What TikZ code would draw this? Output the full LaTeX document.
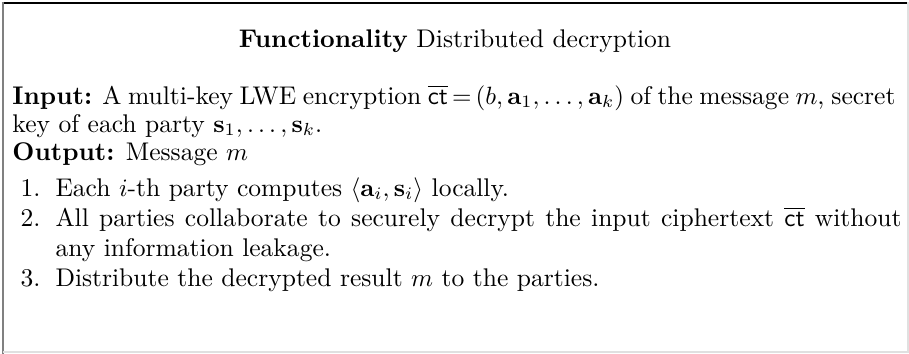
\documentclass[tikz,border=0pt]{standalone}
\usepackage{amsmath,amssymb}
\newcommand{\fs}{\fontsize{10.22}{12.3}\selectfont}
\begin{document}
\begin{tikzpicture}[x=0.4pt,y=-0.4pt,
  txt/.style={anchor=base west,inner sep=0pt,font=\fs},
  lab/.style={anchor=base east,inner sep=0pt,font=\fs}]
\fill[white] (0,0) rectangle (909,354);
\useasboundingbox (0,0) rectangle (909,354);
\draw[line width=0.8pt,black] (2,2.5) -- (909,2.5);
\draw[line width=0.8pt,gray] (3,2) -- (3,354);
\draw[line width=0.5pt,black!12] (908,2) -- (908,352) -- (3,352);
\node[anchor=base,inner sep=0pt,font=\fs] (title) at (455,47) {\textbf{Functionality} Distributed decryption};
\node[txt] (in1) at (12,104) {\hbox to 353.2pt{\textbf{Input:} A multi-key LWE encryption $\overline{\mathsf{ct}}\mskip3mu{=}\mskip3mu(b,\mathbf{a}_1,\ldots,\mathbf{a}_k)$ of the message $m$, secret}};
\node[txt] (in2) at (12,132) {key of each party $\mathbf{s}_1,\ldots,\mathbf{s}_k$.};
\node[txt] (out) at (12,160) {\textbf{Output:} Message $m$};
\node[lab] (l1) at (41,196) {1.};
\node[txt] (i1) at (55,196) {Each $i$-th party computes $\langle\mathbf{a}_i,\mathbf{s}_i\rangle$ locally.};
\node[lab] (l2) at (41,226) {2.};
\node[txt] (i2a) at (55,226) {\hbox to 338.4pt{All parties collaborate to securely decrypt the input ciphertext $\overline{\mathsf{ct}}$ without}};
\node[txt] (i2b) at (55,256) {any information leakage.};
\node[lab] (l3) at (41,286) {3.};
\node[txt] (i3) at (55,286) {Distribute the decrypted result $m$ to the parties.};
\end{tikzpicture}
\end{document}
